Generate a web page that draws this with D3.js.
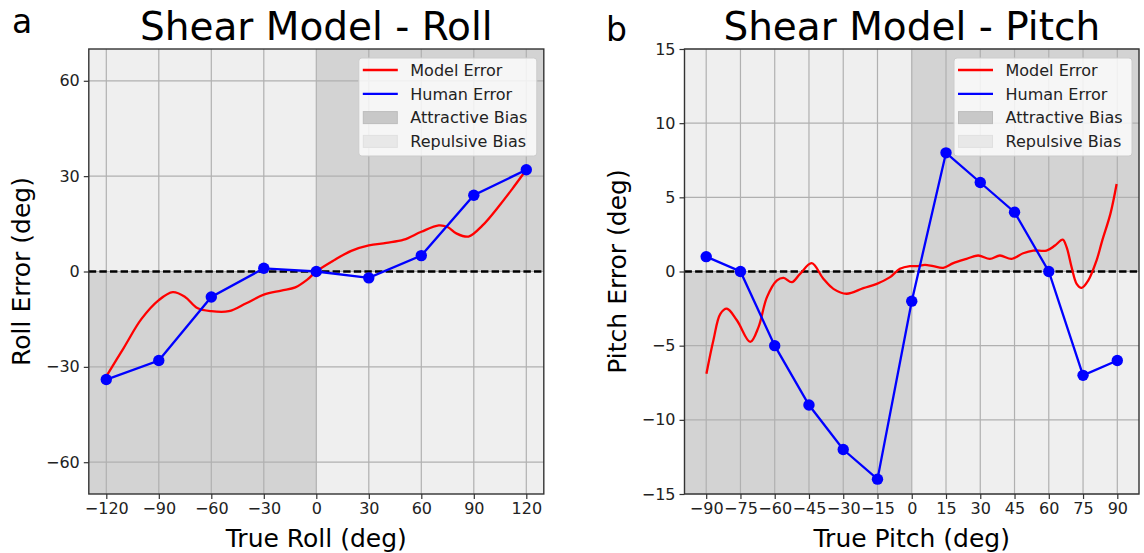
<!DOCTYPE html>
<html>
<head>
<meta charset="utf-8">
<script src="https://cdn.jsdelivr.net/npm/d3@7"></script>
<style>
  body { margin: 0; background: #fff; }
  svg { display: block; font-family: "DejaVu Sans", sans-serif; }
</style>
</head>
<body>
<svg id="chart" width="1144" height="553"></svg>
<script>
// roll panel
var rollTicks = [-120, -90, -60, -30, 0, 30, 60, 90, 120];
var rollYTicks = [-60, -30, 0, 30, 60];
var rollHuman = [-34, -28, -8, 1, 0, -2, 5, 24, 32];
var rollModelX = [-120, -110, -100, -90, -82, -75, -68, -60, -50, -40, -30, -20, -12, -5, 0, 10, 20, 30, 40, 50, 60, 70, 75, 80, 87, 95, 105, 112, 120];
var rollModelY = [-33, -24, -15, -9, -6.5, -8, -11.5, -12.5, -12.5, -10, -7.3, -6, -5, -2.5, 0, 3.5, 6.5, 8.2, 9, 10, 12.5, 14.5, 14, 12, 11, 14.5, 21, 26, 32];

// pitch panel
var pitchTicks = [-90, -75, -60, -45, -30, -15, 0, 15, 30, 45, 60, 75, 90];
var pitchYTicks = [-15, -10, -5, 0, 5, 10, 15];
var pitchHuman = [1, 0, -5, -9, -12, -14, -2, 8, 6, 4, 0, -7, -6];
var pitchModelX = [-89.9, -86.8, -83.8, -80.9, -76.5, -70.7, -67.1, -63.4, -59, -56.1, -52.5, -48.9, -43.8, -38.7, -34.3, -28.5, -21.2, -15.3, -9.5, -5.2, -0.8, 2.1, 5.8, 9.4, 13.8, 18.2, 24, 29.1, 34.2, 38.6, 43.7, 48.8, 53.2, 59, 62.7, 66.1, 67.8, 70, 72.2, 74.4, 77.3, 80.9, 83.4, 87, 89.7];
var pitchModelY = [-6.89, -4.6, -2.85, -2.51, -3.3, -4.75, -3.75, -1.73, -0.6, -0.43, -0.72, -0.16, 0.56, -0.49, -1.17, -1.5, -1.12, -0.83, -0.38, 0.18, 0.36, 0.36, 0.45, 0.36, 0.25, 0.56, 0.85, 1.08, 0.85, 1.08, 0.85, 1.23, 1.41, 1.41, 1.75, 2.15, 1.64, 0.29, -0.83, -1.1, -0.6, 0.74, 2.08, 3.9, 5.9];

var legendLabels = ["Model Error", "Human Error", "Attractive Bias", "Repulsive Bias"];

var darkFill = "#d3d3d3";
var lightFill = "#efefef";

var svg = d3.select("#chart");

drawPanel({
    letter: "a", letterX: 12, letterY: 33,
    title: "Shear Model - Roll",
    xlabel: "True Roll (deg)", ylabel: "Roll Error (deg)",
    left: 88.8, right: 543.8, top: 49, bottom: 494,
    xdom: [-130, 130], ydom: [-70, 70],
    xticks: rollTicks, yticks: rollYTicks,
    human: rollHuman, modelX: rollModelX, modelY: rollModelY,
    ylabelX: 30
});

drawPanel({
    letter: "b", letterX: 606, letterY: 40.5,
    title: "Shear Model - Pitch",
    xlabel: "True Pitch (deg)", ylabel: "Pitch Error (deg)",
    left: 684.5, right: 1139, top: 49, bottom: 494,
    xdom: [-99.5, 99.5], ydom: [-15, 15],
    xticks: pitchTicks, yticks: pitchYTicks,
    human: pitchHuman, modelX: pitchModelX, modelY: pitchModelY,
    ylabelX: 625.5
});

function drawPanel(p) {
    var x = d3.scaleLinear().domain(p.xdom).range([p.left, p.right]);
    var y = d3.scaleLinear().domain(p.ydom).range([p.bottom, p.top]);
    var g = svg.append("g");

    // quadrant shading
    var quads = [
        [p.xdom[0], 0, p.ydom[0], 0, darkFill],
        [0, p.xdom[1], 0, p.ydom[1], darkFill],
        [p.xdom[0], 0, 0, p.ydom[1], lightFill],
        [0, p.xdom[1], p.ydom[0], 0, lightFill]
    ];
    g.selectAll(".quad").data(quads).enter().append("rect")
        .attr("x", function (d) { return x(d[0]); })
        .attr("width", function (d) { return x(d[1]) - x(d[0]); })
        .attr("y", function (d) { return y(d[3]); })
        .attr("height", function (d) { return y(d[2]) - y(d[3]); })
        .attr("fill", function (d) { return d[4]; });

    // grid
    g.selectAll(".vgrid").data(p.xticks).enter().append("line")
        .attr("x1", function (d) { return x(d); }).attr("x2", function (d) { return x(d); })
        .attr("y1", p.top).attr("y2", p.bottom)
        .attr("stroke", "#b0b0b0").attr("stroke-width", 1.2);
    g.selectAll(".hgrid").data(p.yticks).enter().append("line")
        .attr("y1", function (d) { return y(d); }).attr("y2", function (d) { return y(d); })
        .attr("x1", p.left).attr("x2", p.right)
        .attr("stroke", "#b0b0b0").attr("stroke-width", 1.2);

    // zero line
    g.append("line")
        .attr("x1", p.left).attr("x2", p.right)
        .attr("y1", y(0)).attr("y2", y(0))
        .attr("stroke", "#000").attr("stroke-width", 2.3)
        .attr("stroke-dasharray", "7.4,3.2");

    // model error
    var model = p.modelX.map(function (v, i) { return [v, p.modelY[i]]; });
    var line = d3.line()
        .x(function (d) { return x(d[0]); })
        .y(function (d) { return y(d[1]); })
        .curve(d3.curveCatmullRom.alpha(0.5));
    g.append("path").datum(model)
        .attr("d", line)
        .attr("fill", "none").attr("stroke", "#ff0000").attr("stroke-width", 2.3);

    // human error
    var human = p.xticks.map(function (v, i) { return [v, p.human[i]]; });
    g.append("path").datum(human)
        .attr("d", d3.line().x(function (d) { return x(d[0]); }).y(function (d) { return y(d[1]); }))
        .attr("fill", "none").attr("stroke", "#0000ff").attr("stroke-width", 2.3);
    g.selectAll(".dot").data(human).enter().append("circle")
        .attr("cx", function (d) { return x(d[0]); })
        .attr("cy", function (d) { return y(d[1]); })
        .attr("r", 5.7).attr("fill", "#0000ff");

    // axes
    var xAxis = d3.axisBottom(x).tickValues(p.xticks).tickSize(5).tickPadding(4);
    var yAxis = d3.axisLeft(y).tickValues(p.yticks).tickSize(5).tickPadding(4);
    var gx = g.append("g").attr("transform", "translate(0," + p.bottom + ")").call(xAxis);
    var gy = g.append("g").attr("transform", "translate(" + p.left + ",0)").call(yAxis);
    [gx, gy].forEach(function (a) {
        a.select(".domain").remove();
        a.selectAll(".tick line").attr("stroke", "#333").attr("stroke-width", 1.2);
        a.selectAll(".tick text").attr("fill", "#222").style("font-size", "16px")
            .style("font-family", "DejaVu Sans");
    });

    // frame
    g.append("rect")
        .attr("x", p.left).attr("y", p.top)
        .attr("width", p.right - p.left).attr("height", p.bottom - p.top)
        .attr("fill", "none").attr("stroke", "#333").attr("stroke-width", 1.4);

    // texts
    g.append("text").attr("x", (p.left + p.right) / 2).attr("y", 40)
        .attr("text-anchor", "middle").style("font-size", "39px").text(p.title);
    g.append("text").attr("x", p.letterX).attr("y", p.letterY)
        .style("font-size", "33px").text(p.letter);
    g.append("text").attr("x", (p.left + p.right) / 2).attr("y", 546.5)
        .attr("text-anchor", "middle").style("font-size", "25px").text(p.xlabel);
    g.append("text")
        .attr("transform", "translate(" + p.ylabelX + "," + ((p.top + p.bottom) / 2) + ") rotate(-90)")
        .attr("text-anchor", "middle").style("font-size", "25px").text(p.ylabel);

    // legend
    var lw = 178, lh = 98;
    var lx = p.right - 7 - lw, ly = p.top + 9;
    var leg = g.append("g").attr("transform", "translate(" + lx + "," + ly + ")");
    leg.append("rect").attr("width", lw).attr("height", lh).attr("rx", 3)
        .attr("fill", "#ffffff").attr("fill-opacity", 0.8)
        .attr("stroke", "#cccccc").attr("stroke-width", 1);
    legendLabels.forEach(function (lab, i) {
        var cy = 12 + i * 23.8;
        if (i < 2) {
            leg.append("line").attr("x1", 4).attr("x2", 39).attr("y1", cy).attr("y2", cy)
                .attr("stroke", i === 0 ? "#ff0000" : "#0000ff").attr("stroke-width", 2.3);
        } else {
            leg.append("rect").attr("x", 4.5).attr("y", cy - 6).attr("width", 34).attr("height", 12)
                .attr("fill", i === 2 ? "#c8c8c8" : "#e8e8e8")
                .attr("stroke", i === 2 ? "#bcbcbc" : "#e0e0e0").attr("stroke-width", 1);
        }
        leg.append("text").attr("x", 51.5).attr("y", cy + 5.8)
            .attr("fill", "#222").style("font-size", "16px").text(lab);
    });
}
</script>
</body>
</html>
